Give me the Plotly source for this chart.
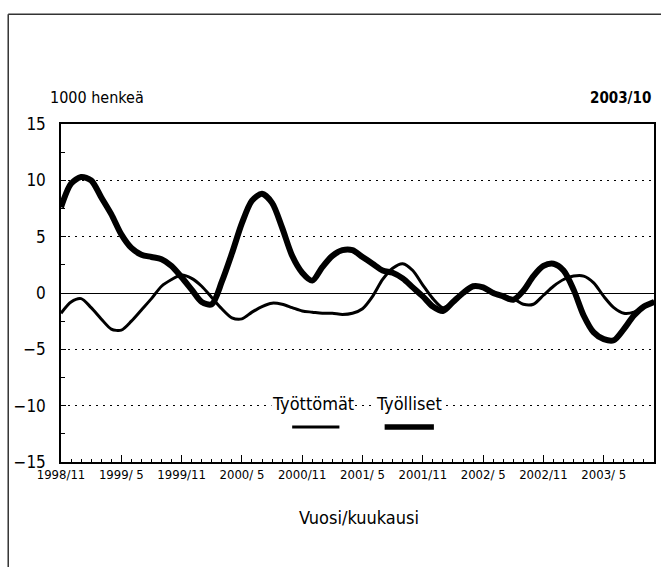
import plotly.graph_objects as go

tick_labels = ["1998/11", "1999/ 5", "1999/11", "2000/ 5", "2000/11",
               "2001/ 5", "2001/11", "2002/ 5", "2002/11", "2003/ 5"]

tyolliset = [7.6, 9.7, 10.3, 10.0, 8.5, 7.0, 5.2, 4.0, 3.4, 3.2,
             3.0, 2.4, 1.4, 0.3, -0.8, -1.0, 1.0, 3.5, 6.2, 8.2,
             8.8, 8.0, 5.8, 3.3, 1.8, 1.1, 2.3, 3.3, 3.8, 3.8,
             3.2, 2.6, 2.0, 1.8, 1.3, 0.5, -0.3, -1.2, -1.6, -0.8,
             0.0, 0.6, 0.5, 0.0, -0.3, -0.6, 0.2, 1.5, 2.4, 2.6,
             2.0, 0.3, -2.0, -3.5, -4.1, -4.2, -3.2, -2.0, -1.2, -0.8]

tyottomat = [-1.8, -0.8, -0.5, -1.3, -2.3, -3.2, -3.3, -2.5, -1.5, -0.5,
             0.6, 1.2, 1.6, 1.3, 0.6, -0.4, -1.4, -2.2, -2.3, -1.7,
             -1.2, -0.9, -1.0, -1.3, -1.6, -1.7, -1.8, -1.8, -1.9, -1.8,
             -1.4, -0.3, 1.2, 2.2, 2.6, 2.0, 0.7, -0.5, -1.3, -0.8,
             0.0, 0.5, 0.5, 0.1, -0.3, -0.5, -1.0, -1.0, -0.2, 0.6,
             1.2, 1.5, 1.5, 0.9, -0.3, -1.3, -1.8, -1.7, -1.2, -0.7]

# month index 0 = 1998/11 ... 59 = 2003/10
x = list(range(len(tyolliset)))
tickvals = list(range(0, 60, 6))

FONT = "'DejaVu Sans Condensed', 'Liberation Sans', sans-serif"

fig = go.Figure()
fig.add_trace(go.Scatter(x=x, y=tyottomat, mode="lines", name="Työttömät",
                         line=dict(color="black", width=3, shape="spline", smoothing=0.8),
                         hoverinfo="skip"))
fig.add_trace(go.Scatter(x=x, y=tyolliset, mode="lines", name="Työlliset",
                         line=dict(color="black", width=6, shape="spline", smoothing=0.8),
                         hoverinfo="skip"))

fig.update_layout(
    width=661, height=567,
    margin=dict(l=61, r=5, t=124, b=105),
    paper_bgcolor="white", plot_bgcolor="white",
    showlegend=False,
    font=dict(family=FONT, color="black", size=14),
)
fig.update_xaxes(
    range=[0, 59], tickvals=tickvals, ticktext=tick_labels,
    ticks="inside", ticklen=7, tickcolor="black", tickwidth=1,
    minor=dict(dtick=1, ticks="inside", ticklen=3, tickcolor="black"),
    showgrid=False, zeroline=False,
    showline=True, linecolor="black", linewidth=1.5, mirror=True,
    tickfont=dict(size=13, family=FONT),
)
fig.update_yaxes(
    range=[-15, 15], tickvals=[-15, -10, -5, 0, 5, 10, 15],
    ticks="inside", ticklen=5, tickcolor="black",
    minor=dict(dtick=2.5, ticks="inside", ticklen=4, tickcolor="black", showgrid=False),
    showgrid=True, gridcolor="black", griddash="2px,5px", gridwidth=1,
    zeroline=True, zerolinecolor="black", zerolinewidth=1.2,
    showline=True, linecolor="black", linewidth=1.5, mirror=True,
    tickfont=dict(size=17, family=FONT), ticklabelstandoff=10,
)

# outer frame (top and left edges)
fig.add_shape(type="line", xref="paper", yref="paper", x0=-0.089, x1=1.02, y0=1.325, y1=1.325,
              line=dict(color="#333", width=1.5))
fig.add_shape(type="line", xref="paper", yref="paper", x0=-0.089, x1=-0.089, y0=1.325, y1=-0.32,
              line=dict(color="#333", width=1.5))

fig.add_annotation(text="1000 henkeä", xref="paper", yref="paper", x=-0.022, y=1.077,
                   xanchor="left", yanchor="middle", showarrow=False, font=dict(size=16, family=FONT))
fig.add_annotation(text="<b>2003/10</b>", xref="paper", yref="paper", x=0.998, y=1.077,
                   xanchor="right", yanchor="middle", showarrow=False, font=dict(size=15, family=FONT))
fig.add_annotation(text="Vuosi/kuukausi", xref="paper", yref="paper", x=0.503, y=-0.163,
                   xanchor="center", yanchor="middle", showarrow=False, font=dict(size=18, family=FONT))

# legend
fig.add_annotation(text="Työttömät", xref="x", yref="y", x=25.1, y=-9.8, showarrow=False,
                   bgcolor="white", borderpad=0, font=dict(size=18, family=FONT))
fig.add_annotation(text="Työlliset", xref="x", yref="y", x=34.6, y=-9.8, showarrow=False,
                   bgcolor="white", borderpad=0, font=dict(size=18, family=FONT))
fig.add_shape(type="line", xref="x", yref="y", x0=23.0, x1=27.7, y0=-11.9, y1=-11.9,
              line=dict(color="black", width=3))
fig.add_shape(type="line", xref="x", yref="y", x0=32.2, x1=37.1, y0=-11.9, y1=-11.9,
              line=dict(color="black", width=5.5))

fig.write_html("out.html", config={"displayModeBar": False},
               post_script="document.body.style.margin='0';document.body.style.overflow='hidden';")
